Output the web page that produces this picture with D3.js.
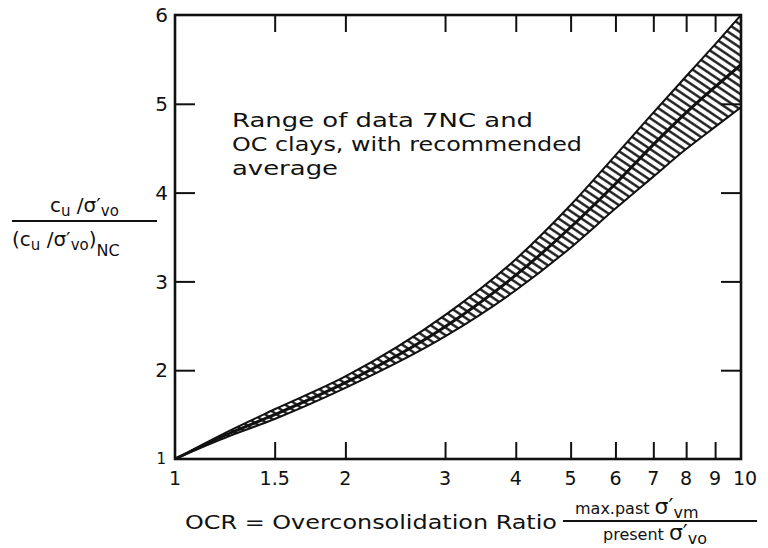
<!DOCTYPE html>
<html>
<head>
<meta charset="utf-8">
<script src="https://cdn.jsdelivr.net/npm/d3@7"></script>
<style>
  body { margin: 0; background: #fff; }
  text { font-family: "DejaVu Sans", sans-serif; fill: #111; }
</style>
</head>
<body>
<div id="chart"></div>
<script>
// values
var ocr      = [1, 1.25, 1.5, 2, 3, 4, 5, 6, 7, 8, 9, 10]
var lower    = [1, 1.26, 1.45, 1.80, 2.38, 2.90, 3.38, 3.82, 4.18, 4.49, 4.74, 4.96]
var average  = [1, 1.29, 1.50, 1.86, 2.49, 3.07, 3.61, 4.10, 4.54, 4.90, 5.19, 5.44]
var upper    = [1, 1.32, 1.56, 1.93, 2.62, 3.25, 3.86, 4.42, 4.90, 5.31, 5.67, 6.00]
var xTicks   = [1, 1.5, 2, 3, 4, 5, 6, 7, 8, 9, 10]
var xLabels  = ["1", "1.5", "2", "3", "4", "5", "6", "7", "8", "9", "10"]
var yTicks   = [1, 2, 3, 4, 5, 6]

var width = 768, height = 548
var pLeft = 175, pRight = 741, pTop = 15, pBottom = 459

var x = d3.scaleLog().domain([1, 10]).range([pLeft, pRight])
var y = d3.scaleLinear().domain([1, 6]).range([pBottom, pTop])

var svg = d3.select("#chart").append("svg")
  .attr("width", width)
  .attr("height", height)

// hatch pattern for the range band
var defs = svg.append("defs")
var pat = defs.append("pattern")
  .attr("id", "hatch")
  .attr("patternUnits", "userSpaceOnUse")
  .attr("width", 10)
  .attr("height", 6.4)
  .attr("patternTransform", "rotate(34)")
pat.append("line")
  .attr("x1", 0).attr("y1", 3.2).attr("x2", 10).attr("y2", 3.2)
  .style("stroke", "#111")
  .style("stroke-width", 2.3)

defs.append("clipPath").attr("id", "plotclip")
  .append("rect")
  .attr("x", pLeft).attr("y", pTop)
  .attr("width", pRight - pLeft).attr("height", pBottom - pTop)

var rows = ocr.map(function(d, i){ return {o: d, lo: lower[i], av: average[i], up: upper[i]} })

var area = d3.area()
  .curve(d3.curveMonotoneX)
  .x(function(d){ return x(d.o) })
  .y0(function(d){ return y(d.lo) })
  .y1(function(d){ return y(d.up) })

var g = svg.append("g").attr("clip-path", "url(#plotclip)")

g.append("path")
  .datum(rows)
  .attr("d", area)
  .style("fill", "url(#hatch)")

function edge(key, w){
  g.append("path")
    .datum(rows)
    .attr("d", d3.line().curve(d3.curveMonotoneX)
      .x(function(d){ return x(d.o) })
      .y(function(d){ return y(d[key]) }))
    .style("fill", "none")
    .style("stroke", "#111")
    .style("stroke-width", w)
}
edge("lo", 2)
edge("up", 2)
edge("av", 3)

// frame
svg.append("rect")
  .attr("x", pLeft).attr("y", pTop)
  .attr("width", pRight - pLeft).attr("height", pBottom - pTop)
  .style("fill", "none")
  .style("stroke", "#111")
  .style("stroke-width", 2.6)

// inward ticks on all four sides
var tl = 17
var innerX = xTicks.slice(1, -1)
var innerY = yTicks.slice(1, -1)

svg.append("g").attr("transform", "translate(0," + pBottom + ")")
  .call(d3.axisTop(x).tickValues(innerX).tickSize(tl).tickFormat(""))
svg.append("g").attr("transform", "translate(0," + pTop + ")")
  .call(d3.axisBottom(x).tickValues(innerX).tickSize(tl).tickFormat(""))
svg.append("g").attr("transform", "translate(" + pLeft + ",0)")
  .call(d3.axisRight(y).tickValues(innerY).tickSize(20).tickFormat(""))
svg.append("g").attr("transform", "translate(" + pRight + ",0)")
  .call(d3.axisLeft(y).tickValues(innerY).tickSize(20).tickFormat(""))

svg.selectAll(".domain").remove()
svg.selectAll(".tick line").style("stroke", "#111").style("stroke-width", 2)

// tick labels
svg.selectAll(".xlab")
  .data(xTicks)
  .enter().append("text")
  .attr("class", "xlab")
  .attr("x", function(d){ return x(d) + (d == 10 ? 4 : 0) })
  .attr("y", 485)
  .attr("text-anchor", "middle")
  .style("font-size", "19px")
  .text(function(d, i){ return xLabels[i] })

svg.selectAll(".ylab")
  .data(yTicks)
  .enter().append("text")
  .attr("class", "ylab")
  .attr("x", function(d){ return d == 1 ? 166 : 168 })
  .attr("y", function(d){ return y(d) })
  .attr("dy", "0.36em")
  .attr("text-anchor", "end")
  .style("font-size", function(d){ return d == 1 ? "15px" : "20px" })
  .text(function(d){ return d })

// annotation
var note = ["Range of data  7NC and", "OC clays, with recommended", "average"]
var noteLen = [301, 350, 106]
svg.selectAll(".note")
  .data(note)
  .enter().append("text")
  .attr("class", "note")
  .attr("x", 232)
  .attr("y", function(d, i){ return 127 + i * 24 })
  .attr("textLength", function(d, i){ return noteLen[i] })
  .attr("lengthAdjust", "spacingAndGlyphs")
  .style("font-size", "19px")
  .text(function(d){ return d })

// y-axis title as a fraction
var yt = svg.append("g")
var num = yt.append("text").attr("x", 50).attr("y", 212).style("font-size", "20px")
num.append("tspan").text("c")
num.append("tspan").attr("dy", 4).style("font-size", "15px").text("u")
num.append("tspan").attr("dy", -4).text(" /σ′")
num.append("tspan").attr("dy", 4).style("font-size", "15px").text("vo")
yt.append("line")
  .attr("x1", 12).attr("x2", 157).attr("y1", 221).attr("y2", 221)
  .style("stroke", "#111").style("stroke-width", 2)
var den = yt.append("text").attr("x", 12).attr("y", 246).style("font-size", "20px")
den.append("tspan").text("(c")
den.append("tspan").attr("dy", 4).style("font-size", "15px").text("u")
den.append("tspan").attr("dy", -4).text(" /σ′")
den.append("tspan").attr("dy", 4).style("font-size", "15px").text("vo")
den.append("tspan").attr("dy", -4).text(")")
den.append("tspan").attr("dy", 10).style("font-size", "16px").text("NC")

// x-axis title
svg.append("text")
  .attr("x", 185).attr("y", 529)
  .attr("textLength", 372)
  .attr("lengthAdjust", "spacingAndGlyphs")
  .style("font-size", "19px")
  .text("OCR = Overconsolidation Ratio")
svg.append("line")
  .attr("x1", 563).attr("x2", 757).attr("y1", 521).attr("y2", 521)
  .style("stroke", "#111").style("stroke-width", 2)
var xn = svg.append("text").attr("x", 575).attr("y", 514).style("font-size", "16px")
xn.append("tspan").text("max.past ")
xn.append("tspan").style("font-size", "22px").text("σ′")
xn.append("tspan").attr("dy", 4).style("font-size", "16px").text("vm")
var xd = svg.append("text").attr("x", 603).attr("y", 540).style("font-size", "16px")
xd.append("tspan").text("present ")
xd.append("tspan").style("font-size", "22px").text("σ′")
xd.append("tspan").attr("dy", 4).style("font-size", "16px").text("vo")
</script>
</body>
</html>
